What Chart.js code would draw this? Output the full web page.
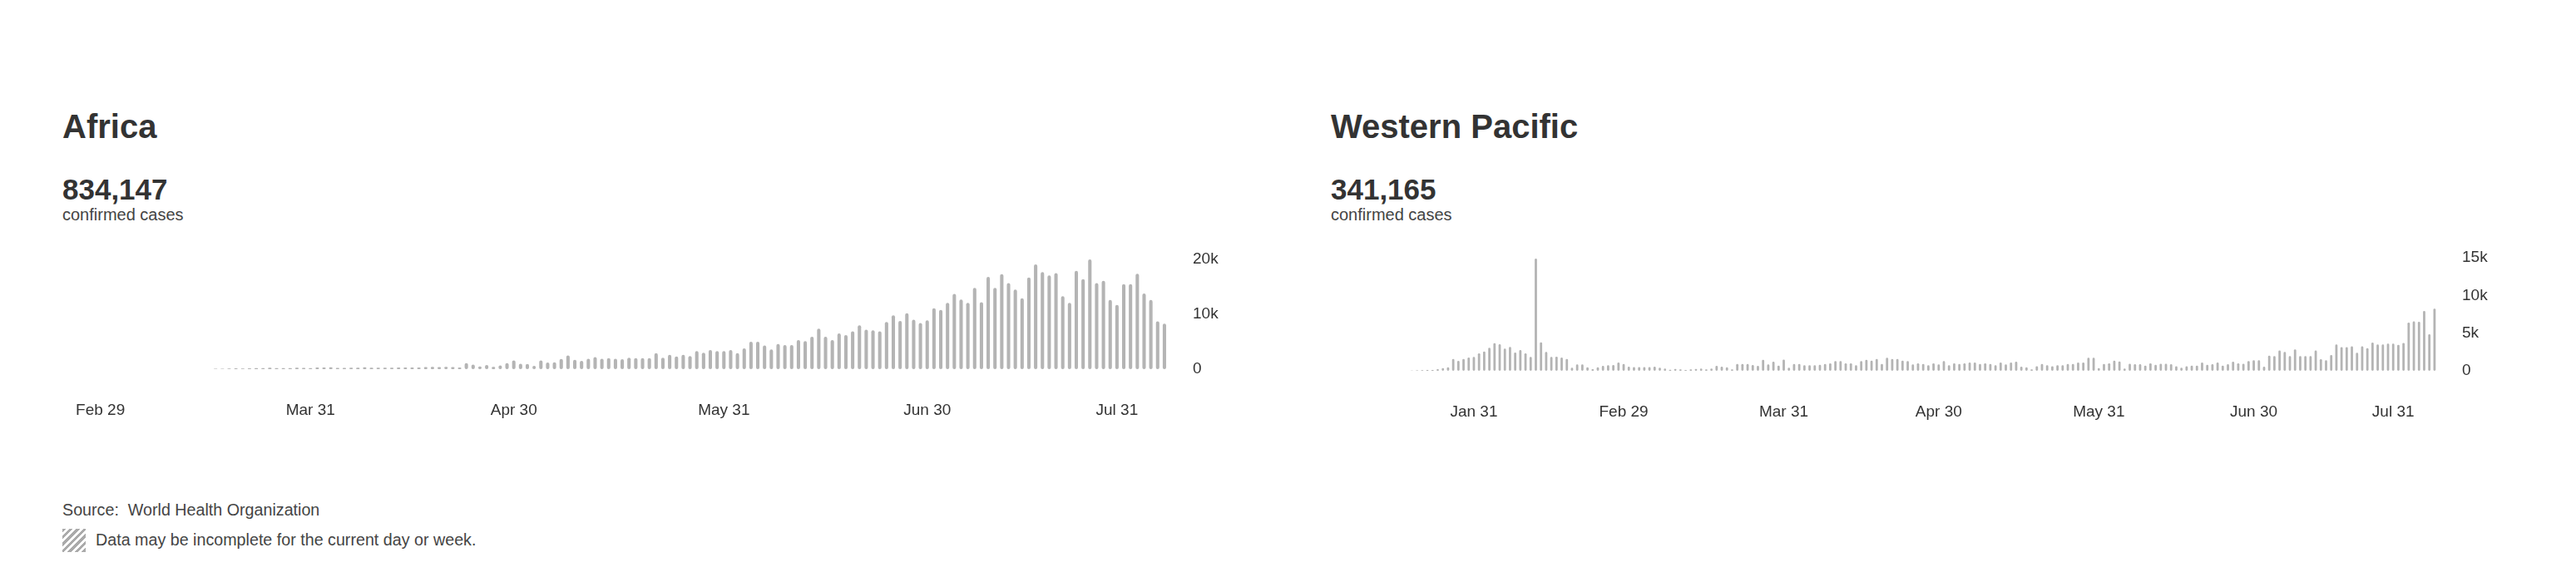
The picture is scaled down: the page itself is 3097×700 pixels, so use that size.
<!DOCTYPE html>
<html>
<head>
<meta charset="utf-8">
<script src="https://cdn.jsdelivr.net/npm/chart.js@4"></script>
<style>
    body { margin: 0; width: 3097px; height: 700px; background: #fff; font-family: "Liberation Sans", Arial, sans-serif; color: #333; position: relative; overflow: hidden; }
    .title { position: absolute; font-size: 40px; font-weight: bold; line-height: 1; white-space: nowrap; }
    .total { position: absolute; font-size: 35px; font-weight: bold; line-height: 1; }
    .sub { position: absolute; font-size: 20px; line-height: 1; color: #444; }
    canvas { position: absolute; }
    .note { position: absolute; left: 75px; font-size: 19.7px; line-height: 1; color: #444; white-space: nowrap; }
    .hatch { position: absolute; left: 75px; top: 636px; width: 28px; height: 28px; background: repeating-linear-gradient(135deg, #aaa 0 3px, #fff 3px 6px); }
</style>
</head>
<body>
<div class="title" style="left:75px;top:132px">Africa</div>
<div class="total" style="left:75px;top:210px">834,147</div>
<div class="sub" style="left:75px;top:248px">confirmed cases</div>
<canvas id="africa-chart" width="1390" height="244" style="left:84px;top:280px"></canvas>

<div class="title" style="left:1600px;top:132px">Western Pacific</div>
<div class="total" style="left:1600px;top:210px">341,165</div>
<div class="sub" style="left:1600px;top:248px">confirmed cases</div>
<canvas id="wp-chart" width="1405" height="246" style="left:1595px;top:280px"></canvas>

<div class="note" style="top:604px">Source:&nbsp; World Health Organization</div>
<div class="hatch"></div>
<div class="note" style="left:115px;top:640px">Data may be incomplete for the current day or week.</div>

<script>
// Daily confirmed cases
const africaStart = [1, 25];   // Feb 25, 2020
const africaCases = [
    0, 0, 0, 0, 0, 0, 0, 0, 0, 0, 0, 0, 0, 0, 0, 0, 0, 0, 0, 0, 0,
    60, 80, 120, 150, 100, 140,
    180, 200, 260, 180, 200, 180, 250, 220, 200, 300, 320, 340, 220, 230, 250,
    260, 330, 260, 280, 270, 280, 300, 290, 300, 320, 360, 400, 380, 420, 380, 320,
    1100, 850, 500, 750, 400, 700, 1100, 1600, 1000, 950, 600, 1600, 1200, 1250, 1850, 2500,
    1700, 1500, 1900, 2200, 1900, 2000, 1900, 1800, 2100, 2000,
    2000, 2000, 2900, 2100, 2600, 2300, 2600, 2400, 3300, 3000,
    3500, 3300, 3300, 3500, 2900, 3800, 5000, 5000, 4300, 3600,
    4600, 4400, 4400, 5300, 5100, 5900, 7400, 5900, 5300, 6500,
    6200, 6900, 8000, 7200, 7100, 6900,
    8600, 9800, 8800, 10200, 9000, 8400, 8900, 11100, 10800, 12100,
    13700, 12700, 12100, 14800, 12200, 16800, 14800, 17300, 15700, 14500,
    12900, 16700, 19100, 17700, 17100, 17500, 13300, 12100, 17900, 16400,
    20000, 15700, 16100, 12600, 11700, 15500, 15500, 17400, 13800, 12600,
    8700, 8300
];
const africaTicks = [0, 10000, 20000];
// the last label sits a few days early in the original
const africaTickAt = ['Feb 29', 'Mar 31', 'Apr 30', 'May 31', 'Jun 30', 'Jul 28'];
const africaTickText = ['Feb 29', 'Mar 31', 'Apr 30', 'May 31', 'Jun 30', 'Jul 31'];

const wpStart = [0, 3];   // Jan 3, 2020
const wpCases = [
    0, 0, 0, 0, 0, 0, 0, 0, 0, 0, 0, 0, 0, 0, 0, 0,
    40, 60, 80, 100, 120,
    220, 370, 480, 1580, 1320, 1580, 1760, 1840, 2320, 2570,
    3050, 3680, 3530, 2940, 3160, 2430, 2760, 2320, 1840, 14900,
    3790, 2500, 1840, 1880, 1760, 1580,
    400, 850, 850, 480, 220, 480, 660, 740, 770, 1100,
    920, 550, 500, 500, 500, 500, 550, 400, 300, 150,
    250, 200, 100, 200, 250, 300, 200, 300, 660, 550,
    480, 200, 900, 900, 900, 770, 660, 1470, 850, 1200,
    700, 1500,
    400, 920, 920, 740, 740, 740, 810, 920, 1000, 1290,
    1290, 1000, 1000, 740, 1290, 1470, 1360, 1580, 920, 1730,
    1580, 1580, 1360, 1290, 850, 1000, 920, 740, 1000, 850,
    1290, 740, 1000, 920, 1000, 1100, 1100, 920, 1000, 920,
    740, 1100, 850, 1100, 1200, 550, 480, 180, 620, 920,
    740, 620, 740, 740, 920, 920, 1100, 1100, 1730, 1730,
    370, 920, 1000, 1360,
    1250, 300, 950, 880, 880, 700, 1000, 800, 950, 950,
    880, 600, 400, 600, 700, 700, 1100, 800, 880, 1100,
    700, 880, 1200, 1000, 950, 1300, 1400, 1400, 550, 2000,
    1950, 2700, 2500, 1950, 2850, 1950, 1950, 1950, 2700, 1550,
    1400, 2100, 3500, 3150, 3150, 3250, 2400, 3250, 3000, 3750,
    3500, 3500, 3600, 3600, 3450, 3700, 6400, 6550, 6500, 7950,
    4850, 8250
];
const wpTicks = [0, 5000, 10000, 15000];
const wpTickAt = ['Jan 31', 'Feb 29', 'Mar 31', 'Apr 30', 'May 31', 'Jun 30', 'Jul 27'];
const wpTickText = ['Jan 31', 'Feb 29', 'Mar 31', 'Apr 30', 'May 31', 'Jun 30', 'Jul 31'];

const MONTHS = ['Jan', 'Feb', 'Mar', 'Apr', 'May', 'Jun', 'Jul', 'Aug', 'Sep', 'Oct', 'Nov', 'Dec'];

function dayLabels(start, count) {
    const d = new Date(Date.UTC(2020, start[0], start[1]));
    const out = [];
    for (let i = 0; i < count; i++) {
        out.push(MONTHS[d.getUTCMonth()] + ' ' + d.getUTCDate());
        d.setUTCDate(d.getUTCDate() + 1);
    }
    return out;
}

function drawCases(id, start, cases, yTicks, tickAt, tickText, barPct, topPad) {
    const ctx = document.getElementById(id).getContext('2d');
    const labels = dayLabels(start, cases.length);

    return new Chart(ctx, {
        type: 'bar',
        data: {
            labels: labels,
            datasets: [{
                data: cases,
                backgroundColor: '#b4b4b4',
                borderRadius: 3,
                borderSkipped: false,
                barPercentage: barPct,
                categoryPercentage: 1,
                clip: 10
            }]
        },
        options: {
            responsive: false,
            animation: false,
            layout: { padding: { top: topPad, left: 0, right: 0, bottom: 0 } },
            plugins: {
                legend: { display: false },
                tooltip: { enabled: false }
            },
            scales: {
                x: {
                    grid: { display: false, drawTicks: false },
                    border: { display: false },
                    afterFit: function(scale) {
                        scale.height = 80;
                        // no extra room for edge labels
                        scale.paddingLeft = 0;
                        scale.paddingRight = 0;
                    },
                    ticks: {
                        autoSkip: false,
                        maxRotation: 0,
                        padding: 38,
                        color: '#333',
                        font: { family: 'Liberation Sans', size: 19 },
                        callback: function(value, i) {
                            const k = tickAt.indexOf(labels[i]);
                            return k >= 0 ? tickText[k] : null;
                        }
                    }
                },
                y: {
                    position: 'right',
                    min: 0,
                    max: yTicks[yTicks.length - 1],
                    grid: { display: false, drawTicks: false },
                    border: { display: false },
                    afterFit: function(scale) {
                        scale.width = 70;
                        scale.paddingTop = 0;
                        scale.paddingBottom = 0;
                    },
                    afterBuildTicks: function(scale) {
                        scale.ticks = yTicks.map(v => ({ value: v }));
                    },
                    ticks: {
                        padding: 30,
                        color: '#333',
                        font: { family: 'Liberation Sans', size: 19 },
                        callback: function(value) {
                            return value === 0 ? '0' : (value / 1000) + 'k';
                        }
                    }
                }
            }
        }
    });
}

drawCases('africa-chart', africaStart, africaCases, africaTicks, africaTickAt, africaTickText, 0.5, 32);
drawCases('wp-chart', wpStart, wpCases, wpTicks, wpTickAt, wpTickText, 0.45, 30);
</script>
</body>
</html>
